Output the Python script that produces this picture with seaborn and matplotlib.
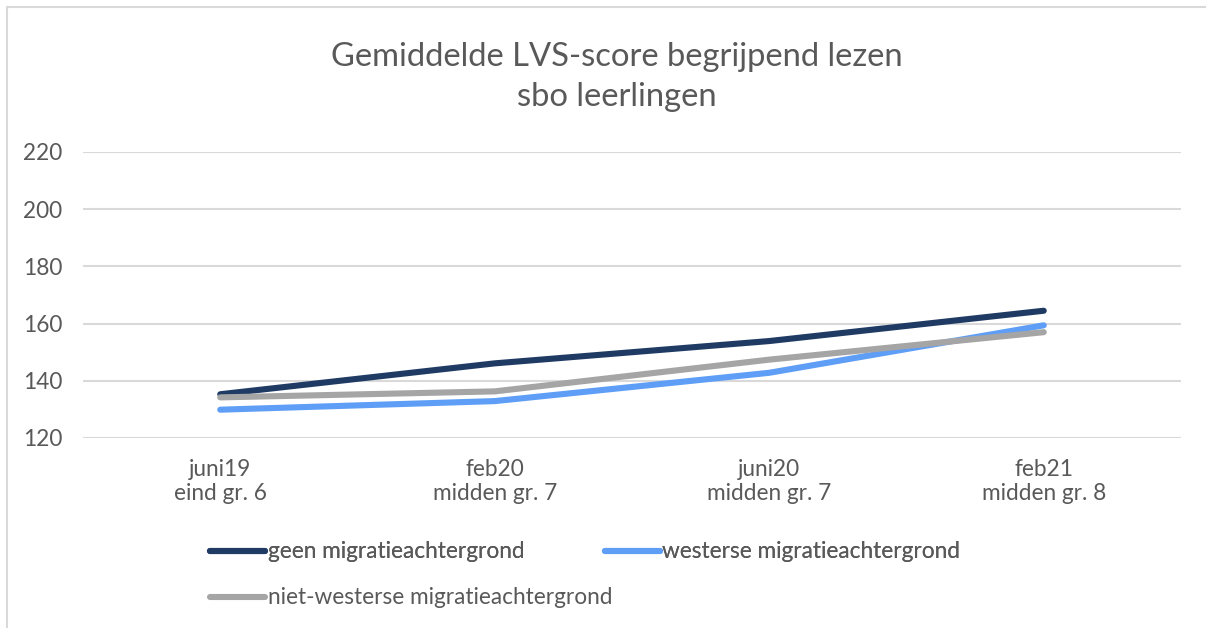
import matplotlib
matplotlib.use("Agg")
import matplotlib.pyplot as plt
import matplotlib.patches as mpatches
from matplotlib.lines import Line2D
import seaborn as sns
import pandas as pd

categories = ["juni19\neind gr. 6", "feb20\nmidden gr. 7", "juni20\nmidden gr. 7", "feb21\nmidden gr. 8"]
series_names = ["geen migratieachtergrond", "westerse migratieachtergrond", "niet-westerse migratieachtergrond"]
geen = [135.3, 146.1, 153.9, 164.5]
westerse = [129.9, 132.9, 142.8, 159.4]
niet_westerse = [134.2, 136.3, 147.4, 157.0]
y_ticks = [120, 140, 160, 180, 200, 220]
title = "Gemiddelde LVS-score begrijpend lezen\nsbo leerlingen"

colors = {"geen migratieachtergrond": "#203B63",
          "westerse migratieachtergrond": "#5E9EF6",
          "niet-westerse migratieachtergrond": "#A5A5A5"}

rows = []
for name, vals in zip(series_names, [geen, westerse, niet_westerse]):
    for i, v in enumerate(vals):
        rows.append({"pos": i, "score": v, "groep": name})
df = pd.DataFrame(rows)

sns.set_theme(style="white")
plt.rcParams["font.family"] = ["Lato", "DejaVu Sans"]

W, H = 1206, 628
FS = 16.3
fig = plt.figure(figsize=(W / 100, H / 100), dpi=100)
ax = fig.add_axes([83 / W, 1 - 438 / H, (1181 - 83) / W, (438 - 152) / H])

# frame
fig.patches.append(mpatches.Rectangle((7 / W, -0.1), 1.2, 1 - 7 / H + 0.1,
                                      transform=fig.transFigure, fill=False,
                                      edgecolor="#D9D9D9", linewidth=1.5, zorder=0))

for yv in y_ticks:
    ax.axhline(yv, color="#D9D9D9", linewidth=1.5, zorder=1)

sns.lineplot(data=df, x="pos", y="score", hue="groep", palette=colors,
             hue_order=series_names, linewidth=4.4, ax=ax, legend=False,
             sort=False, zorder=3)
for ln in ax.lines:
    ln.set_solid_capstyle("round")
    ln.set_solid_joinstyle("round")

ax.set_xlim(-0.5, 3.5)
ax.set_ylim(120, 220)
ax.set_yticks(y_ticks)
ax.set_yticklabels([str(t) for t in y_ticks])
ax.set_xticks(range(len(categories)))
ax.set_xticklabels(categories, linespacing=1.2)
ax.tick_params(axis="both", length=0, labelsize=FS, labelcolor="#595959")
ax.tick_params(axis="y", pad=15)
ax.tick_params(axis="x", pad=15)
ax.set_xlabel("")
ax.set_ylabel("")
for s in ax.spines.values():
    s.set_visible(False)

fig.text(617 / W, 1 - 77 / H, title, ha="center", va="center", fontsize=23.6,
         color="#595959", fontweight="normal", linespacing=1.42)

def handle(c):
    return Line2D([0], [0], color=c, linewidth=4.4, solid_capstyle="round")

common = dict(frameon=False, fontsize=FS, handlelength=2.45, handletextpad=0.1,
              borderpad=0, borderaxespad=0)
leg1 = fig.legend([handle(colors[series_names[0]]), handle(colors[series_names[1]])],
                  series_names[:2], loc="center left",
                  bbox_to_anchor=(210 / W, 1 - 552 / H), ncol=2,
                  columnspacing=3.55, **common)
for t in leg1.get_texts():
    t.set_color("#595959")
leg2 = fig.legend([handle(colors[series_names[2]])], series_names[2:],
                  loc="center left", bbox_to_anchor=(210 / W, 1 - 598 / H),
                  **common)
for t in leg2.get_texts():
    t.set_color("#595959")
fig.add_artist(leg1)

fig.savefig("out.png", dpi=100)
